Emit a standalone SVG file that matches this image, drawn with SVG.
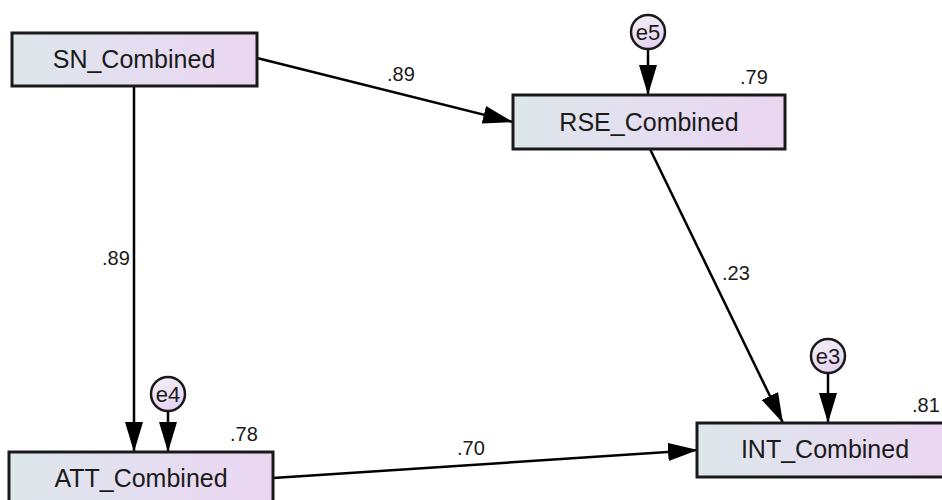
<svg xmlns="http://www.w3.org/2000/svg" width="942" height="500" viewBox="0 0 942 500">
<defs>
<linearGradient id="boxg" x1="0" y1="0" x2="1" y2="0">
<stop offset="0" stop-color="#dde7ea"/>
<stop offset="0.5" stop-color="#e4def0"/>
<stop offset="1" stop-color="#ebd5f1"/>
</linearGradient>
<linearGradient id="circg" x1="0" y1="0" x2="0.4" y2="1">
<stop offset="0" stop-color="#f4f2f7"/>
<stop offset="1" stop-color="#e6d3f1"/>
</linearGradient>
<marker id="arr" markerUnits="userSpaceOnUse" markerWidth="30" markerHeight="18" refX="30" refY="9" orient="auto">
<path d="M0,0 L30,9 L0,18 z" fill="#000"/>
</marker>
<style>
.box{fill:url(#boxg);stroke:#1a1a1a;stroke-width:3}
.circ{fill:url(#circg);stroke:#1a1a1a;stroke-width:2.5}
.lbl{font-family:"Liberation Sans",Arial,sans-serif;font-size:25px;fill:#1a1a1a;text-anchor:middle}
.elbl{font-family:"Liberation Sans",Arial,sans-serif;font-size:22px;fill:#1a1a1a;text-anchor:middle}
.num{font-family:"Liberation Sans",Arial,sans-serif;font-size:20px;fill:#1a1a1a}
.con{stroke:#000;stroke-width:2.5;fill:none;marker-end:url(#arr)}
</style>
</defs>
<rect width="942" height="500" fill="#fff"/>
<g id="connectors">
<line class="con" x1="257" y1="58" x2="513" y2="122"/>
<line class="con" x1="134" y1="86" x2="134" y2="452"/>
<line class="con" x1="650" y1="149" x2="783" y2="423"/>
<line class="con" x1="273" y1="478" x2="698" y2="450"/>
<line class="con" x1="648" y1="49" x2="648" y2="95"/>
<line class="con" x1="168" y1="411" x2="168" y2="452"/>
<line class="con" x1="828" y1="373" x2="828" y2="423"/>
<text class="num" x="387" y="81">.89</text>
<text class="num" x="102" y="265">.89</text>
<text class="num" x="722" y="280">.23</text>
<text class="num" x="457" y="455">.70</text>
</g>
<g id="SN_Combined">
<rect class="box" x="12" y="33" width="245" height="53"/>
<text class="lbl" x="134" y="68">SN_Combined</text>
</g>
<g id="RSE_Combined">
<rect class="box" x="513" y="95" width="272" height="54"/>
<text class="lbl" x="649" y="131">RSE_Combined</text>
<text class="num" x="740" y="84">.79</text>
</g>
<g id="INT_Combined">
<rect class="box" x="697" y="423" width="256" height="54"/>
<text class="lbl" x="825" y="458">INT_Combined</text>
<text class="num" x="912" y="412">.81</text>
</g>
<g id="ATT_Combined">
<rect class="box" x="9" y="452" width="264" height="54"/>
<text class="lbl" x="141" y="487">ATT_Combined</text>
<text class="num" x="230" y="441">.78</text>
</g>
<g id="e5">
<circle class="circ" cx="648" cy="32" r="17"/>
<text class="elbl" x="648" y="40">e5</text>
</g>
<g id="e4">
<circle class="circ" cx="168" cy="394" r="17"/>
<text class="elbl" x="168" y="402">e4</text>
</g>
<g id="e3">
<circle class="circ" cx="828" cy="356" r="17"/>
<text class="elbl" x="828" y="364">e3</text>
</g>
</svg>
